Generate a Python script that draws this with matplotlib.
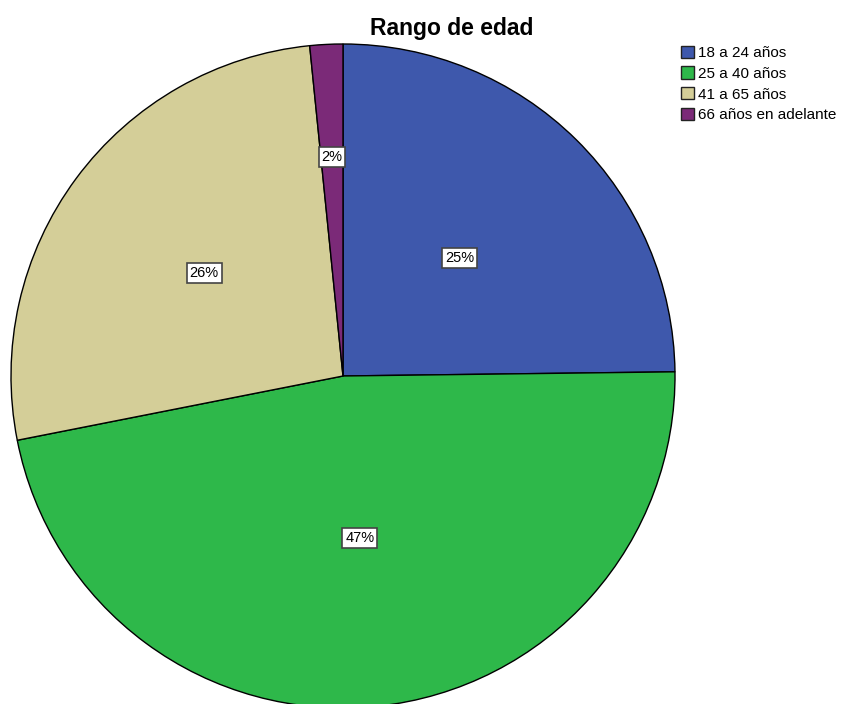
import matplotlib
matplotlib.use("Agg")
import matplotlib.pyplot as plt
import numpy as np

categories = ["18 a 24 años", "25 a 40 años", "41 a 65 años", "66 años en adelante"]
values = [24.8, 47.1, 26.5, 1.6]
labels = ["25%", "47%", "26%", "2%"]
colors = ["#3E58AC", "#2EB84A", "#D4CE98", "#7B2A78"]
label_dist = [0.50, 0.49, 0.52, 0.66]

plt.rcParams['font.family'] = ['Liberation Sans', 'DejaVu Sans']

W, H = 841, 704
fig = plt.figure(figsize=(W/100, H/100), dpi=100)
ax = fig.add_axes([0, 0, 1, 1])
cx, cy, R = 343, 376, 332

wedges, _ = ax.pie(values, colors=colors, startangle=90, counterclock=False,
                   radius=1, wedgeprops=dict(edgecolor="black", linewidth=1.0))
ax.set_xlim(-cx/R, (W-cx)/R)
ax.set_ylim(-(H-cy)/R, cy/R)
ax.set_aspect('auto')
ax.axis('off')

for w, lab, d in zip(wedges, labels, label_dist):
    ang = np.deg2rad((w.theta1 + w.theta2) / 2)
    ax.text(d*np.cos(ang), d*np.sin(ang), lab, ha='center', va='center', fontsize=10.5,
            bbox=dict(boxstyle='square,pad=0.2', facecolor='white', edgecolor='#444444', linewidth=1.2))

fig.text(452/W, 1-28/H, "Rango de edad", ha='center', va='center', fontsize=16.5, fontweight='bold')

leg = fig.legend(wedges, categories, loc='upper left', bbox_to_anchor=(670/W, 1-35/H),
                 frameon=False, fontsize=11, handlelength=0.85, handleheight=0.85,
                 handletextpad=0.3, labelspacing=0.42, borderpad=0.2)
for h in leg.legend_handles:
    h.set_edgecolor('#222222')
    h.set_linewidth(1.0)

fig.savefig("out.png", dpi=100)
